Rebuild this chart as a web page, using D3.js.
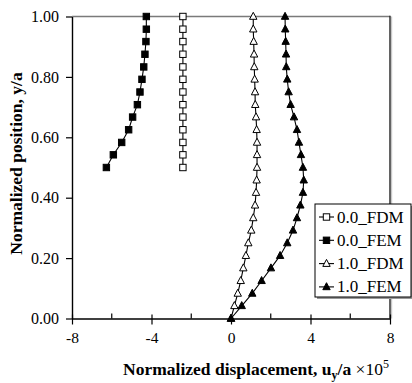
<!DOCTYPE html>
<html>
<head>
<meta charset="utf-8">
<script src="https://cdn.jsdelivr.net/npm/d3@7"></script>
<style>
  html, body { margin: 0; padding: 0; background: #fff; }
  svg { display: block; }
</style>
</head>
<body>
<svg id="chart" width="412" height="383"></svg>
<script>
// Normalized positions y/a (top to bottom)
const positions = [1.000, 0.958, 0.917, 0.875, 0.833, 0.792, 0.750, 0.708, 0.667,
  0.625, 0.583, 0.542, 0.500, 0.458, 0.417, 0.375, 0.333, 0.292, 0.250, 0.208,
  0.167, 0.125, 0.083, 0.042, 0.000];
const positionsUpper = [1.000, 0.958, 0.917, 0.875, 0.833, 0.792, 0.750, 0.708,
  0.667, 0.625, 0.583, 0.542, 0.500];

// Normalized displacement u_y/a ×10^5 for each series
const fdm00 = [-2.42, -2.42, -2.42, -2.42, -2.42, -2.42, -2.42, -2.42, -2.42,
  -2.42, -2.42, -2.42, -2.42];
const fem00 = [-4.26, -4.26, -4.28, -4.33, -4.39, -4.48, -4.58, -4.71, -4.95,
  -5.15, -5.50, -5.92, -6.27];
const fdm10 = [1.12, 1.12, 1.14, 1.16, 1.17, 1.19, 1.21, 1.22, 1.26, 1.29, 1.31,
  1.31, 1.31, 1.29, 1.26, 1.21, 1.12, 1.02, 0.87, 0.75, 0.62, 0.49, 0.34, 0.17, 0.00];
const fem10 = [2.72, 2.73, 2.75, 2.77, 2.78, 2.83, 2.90, 3.00, 3.17, 3.32, 3.42,
  3.52, 3.62, 3.66, 3.62, 3.49, 3.32, 3.12, 2.83, 2.47, 2.01, 1.54, 1.07, 0.54, 0.00];

const seriesNames = ["0.0_FDM", "0.0_FEM", "1.0_FDM", "1.0_FEM"];
const xMajorTicks = [-8, -4, 0, 4, 8];
const xMinorTicks = [-6, -2, 2, 6];
const yTicks = [0, 0.2, 0.4, 0.6, 0.8, 1.0];

const FONT = '"Liberation Serif", "Times New Roman", Tinos, serif';

const series = [
  { name: seriesNames[0], xs: fdm00, ys: positionsUpper, shape: "square", filled: false },
  { name: seriesNames[1], xs: fem00, ys: positionsUpper, shape: "square", filled: true },
  { name: seriesNames[2], xs: fdm10, ys: positions, shape: "triangle", filled: false },
  { name: seriesNames[3], xs: fem10, ys: positions, shape: "triangle", filled: true }
];

const svg = d3.select("#chart");
const x = d3.scaleLinear().domain([-8, 8]).range([72, 390]);
const y = d3.scaleLinear().domain([0, 1]).range([318.5, 16.5]);

// plot frame: grey top edge, dark right edge with light shadow
svg.append("line").attr("x1", x(-8)).attr("x2", x(8)).attr("y1", y(1)).attr("y2", y(1))
  .attr("stroke", "#7a7a7a").attr("stroke-width", 1.6);
svg.append("line").attr("x1", x(8) + 1.6).attr("x2", x(8) + 1.6).attr("y1", y(1)).attr("y2", y(0))
  .attr("stroke", "#c8c8c8").attr("stroke-width", 1.2);
svg.append("line").attr("x1", x(8)).attr("x2", x(8)).attr("y1", y(1) - 0.8).attr("y2", y(0))
  .attr("stroke", "#222").attr("stroke-width", 1.4);

// y axis
const yAxis = d3.axisLeft(y).tickValues(yTicks).tickFormat(d3.format(".2f"))
  .tickSizeInner(6).tickSizeOuter(0).tickPadding(7);
const gy = svg.append("g").attr("transform", `translate(${x(-8)},0)`).call(yAxis);
gy.select(".domain").attr("stroke", "#000").attr("stroke-width", 1.4);
gy.selectAll(".tick line").attr("stroke", "#000").attr("stroke-width", 1.2);
gy.selectAll(".tick text").style("font-size", "16px").style("font-family", FONT).attr("fill", "#000");

// x axis: major ticks cross the axis, minor ticks point inward
const gx = svg.append("g").attr("transform", `translate(0,${y(0)})`);
gx.call(d3.axisBottom(x).tickValues(xMajorTicks).tickFormat(d => String(d))
  .tickSizeInner(6).tickSizeOuter(0).tickPadding(7));
gx.select(".domain").attr("stroke", "#000").attr("stroke-width", 1.4);
gx.selectAll(".tick line").attr("y1", -4).attr("stroke", "#000").attr("stroke-width", 1.2);
gx.selectAll(".tick text").style("font-size", "15.5px").style("font-family", FONT).attr("fill", "#000");
gx.selectAll(".minor").data(xMinorTicks).enter().append("line")
  .attr("class", "minor")
  .attr("x1", d => x(d)).attr("x2", d => x(d)).attr("y1", 0).attr("y2", -5)
  .attr("stroke", "#000").attr("stroke-width", 1.2);

// marker drawing helper
function drawMarker(g, shape, filled, cx, cy) {
  if (shape === "square") {
    g.append("rect").attr("x", cx - 3.2).attr("y", cy - 3.2)
      .attr("width", 6.4).attr("height", 6.4)
      .attr("fill", filled ? "#000" : "#fff").attr("stroke", "#000").attr("stroke-width", 1);
  } else {
    const h = 7, w = 7.4;
    g.append("path")
      .attr("d", `M${cx},${cy - h * 0.6}L${cx + w / 2},${cy + h * 0.4}L${cx - w / 2},${cy + h * 0.4}Z`)
      .attr("fill", filled ? "#000" : "#fff").attr("stroke", "#000").attr("stroke-width", 1);
  }
}

const line = d3.line().x(d => x(d[0])).y(d => y(d[1]));

series.forEach(s => {
  const pts = s.xs.map((v, i) => [v, s.ys[i]]);
  const g = svg.append("g").attr("class", "series");
  g.append("path").attr("d", line(pts)).attr("fill", "none")
    .attr("stroke", "#000").attr("stroke-width", 1.1);
  pts.forEach(p => drawMarker(g, s.shape, s.filled, x(p[0]), y(p[1])));
});

// legend
const lg = svg.append("g").attr("class", "legend");
const lx = 315, ly = 204, lw = 96, lh = 93;
lg.append("rect").attr("x", lx + 2).attr("y", ly + 2).attr("width", lw).attr("height", lh)
  .attr("fill", "#999");
lg.append("rect").attr("x", lx).attr("y", ly).attr("width", lw).attr("height", lh)
  .attr("fill", "#fff").attr("stroke", "#000").attr("stroke-width", 1);
series.forEach((s, i) => {
  const cy = ly + 13 + i * 23.3;
  const row = lg.append("g");
  row.append("line").attr("x1", lx + 4).attr("x2", lx + 19).attr("y1", cy).attr("y2", cy)
    .attr("stroke", "#000").attr("stroke-width", 1.1);
  drawMarker(row, s.shape, s.filled, lx + 11.5, cy);
  row.append("text").attr("x", lx + 22).attr("y", cy + 5.5)
    .style("font-size", "17px").style("font-family", FONT).attr("fill", "#000").text(s.name);
});

// axis titles
svg.append("text")
  .attr("transform", `translate(22,${(y(0) + y(1)) / 2 - 4}) rotate(-90)`)
  .attr("text-anchor", "middle")
  .style("font-size", "17.5px").style("font-weight", "bold").style("font-family", FONT)
  .text("Normalized position, y/a");

const xt = svg.append("text").attr("x", 256).attr("y", 375).attr("text-anchor", "middle")
  .style("font-size", "17.5px").style("font-weight", "bold").style("font-family", FONT);
xt.append("tspan").text("Normalized displacement, u");
xt.append("tspan").style("font-size", "12px").attr("dy", 4).text("y");
xt.append("tspan").attr("dy", -4).text("/a ");
xt.append("tspan").style("font-weight", "normal").text("\u00d710");
xt.append("tspan").style("font-weight", "normal").style("font-size", "12px").attr("dy", -7).text("5");
</script>
</body>
</html>
